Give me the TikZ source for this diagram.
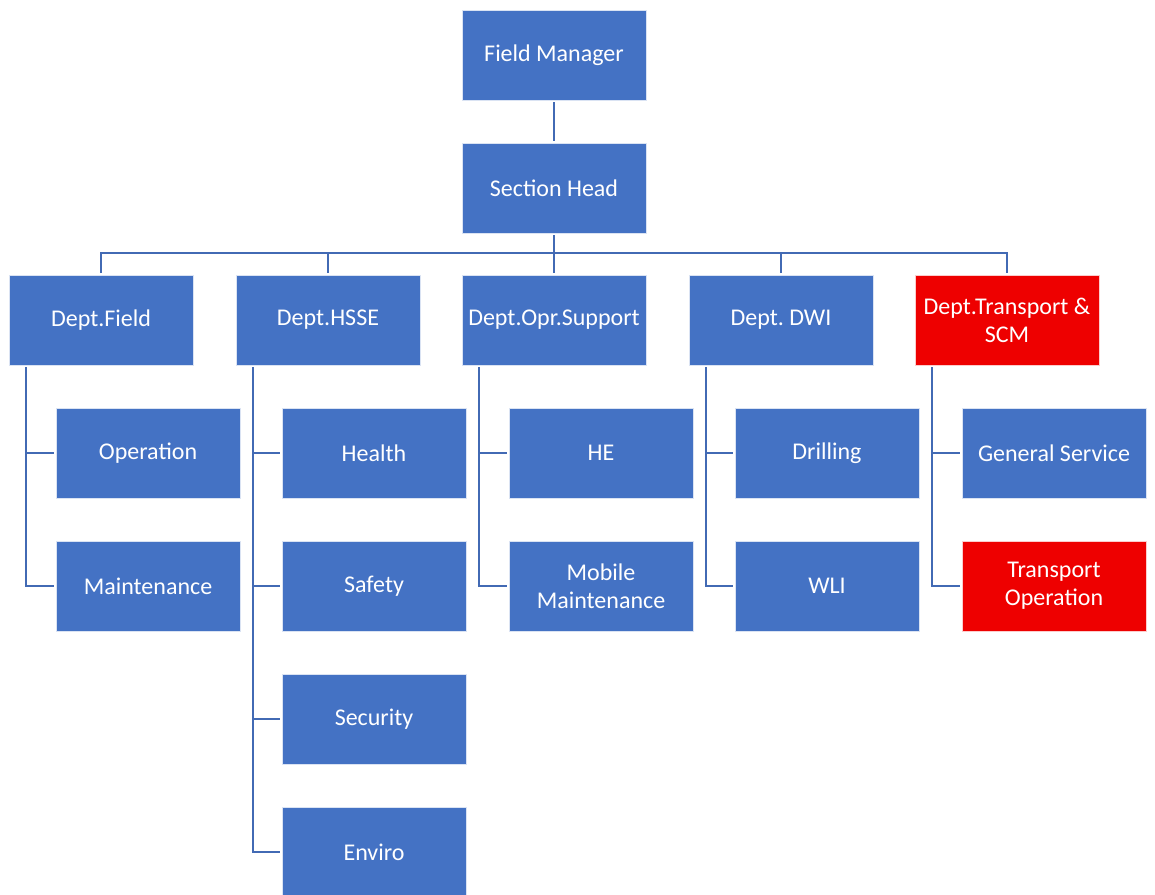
\documentclass[tikz,border=0pt]{standalone}
\usepackage{fontspec}
\setmainfont{Carlito}
\definecolor{boxblue}{RGB}{68,114,196}
\definecolor{boxred}{RGB}{238,0,0}
\definecolor{linkblue}{RGB}{66,106,180}
\tikzset{unit/.style={rectangle,fill=boxblue,draw=white!80!boxblue,line width=0.8pt,minimum width=184pt,minimum height=90pt,
                      inner sep=2pt,outer sep=2pt,text=white,align=center,font=\fontsize{24}{28}\selectfont},
         hot/.style={unit,fill=boxred,draw=white!80!boxred},
         link/.style={linkblue,line width=2.8pt}}

\begin{document}
\begin{tikzpicture}[x=1pt,y=-1pt]
                  \useasboundingbox (0,0) rectangle (1155,894);
                  \node[unit] (fm) at (554,55) {Field Manager};
                  \node[unit] (sh) at (554,188) {Section Head};
                  \node[unit] (field) at (101,320) {Dept.Field};
                  \node[unit] (hsse) at (328,320) {Dept.HSSE};
                  \node[unit] (opr) at (554,320) {Dept.Opr.Support};
                  \node[unit] (dwi) at (781,320) {Dept.\ DWI};
                  \node[hot] (scm) at (1007,320) {Dept.Transport \&\\SCM};
                  \node[unit] (oper) at (148,453) {Operation};
                  \node[unit] (maint) at (148,586) {Maintenance};
                  \node[unit] (health) at (374,453) {Health};
                  \node[unit] (safety) at (374,586) {Safety};
                  \node[unit] (secur) at (374,719) {Security};
                  \node[unit] (enviro) at (374,852) {Enviro};
                  \node[unit] (he) at (601,453) {HE};
                  \node[unit] (mobile) at (601,586) {Mobile\\Maintenance};
                  \node[unit] (drill) at (827,453) {Drilling};
                  \node[unit] (wli) at (827,586) {WLI};
                  \node[unit] (gen) at (1054,453) {General Service};
                  \node[hot] (trans) at (1054,586) {Transport\\Operation};
                  \draw[link] (fm) -- (sh);
                  \draw[link] (sh) -- (opr);
                  \draw[link] (field.north) -- ([yshift=20pt]field.north) -- ([yshift=20pt]scm.north) -- (scm.north);
                  \draw[link] (hsse.north) -- ([yshift=20pt]hsse.north);
                  \draw[link] (dwi.north) -- ([yshift=20pt]dwi.north);
                  \draw[link] ([xshift=19pt]field.south west) |- (oper.west);
                  \draw[link] ([xshift=19pt]field.south west) |- (maint.west);
                  \draw[link] ([xshift=19pt]hsse.south west) |- (health.west);
                  \draw[link] ([xshift=19pt]hsse.south west) |- (safety.west);
                  \draw[link] ([xshift=19pt]hsse.south west) |- (secur.west);
                  \draw[link] ([xshift=19pt]hsse.south west) |- (enviro.west);
                  \draw[link] ([xshift=19pt]opr.south west) |- (he.west);
                  \draw[link] ([xshift=19pt]opr.south west) |- (mobile.west);
                  \draw[link] ([xshift=19pt]dwi.south west) |- (drill.west);
                  \draw[link] ([xshift=19pt]dwi.south west) |- (wli.west);
                  \draw[link] ([xshift=19pt]scm.south west) |- (gen.west);
                  \draw[link] ([xshift=19pt]scm.south west) |- (trans.west);
              \end{tikzpicture}
\end{document}
